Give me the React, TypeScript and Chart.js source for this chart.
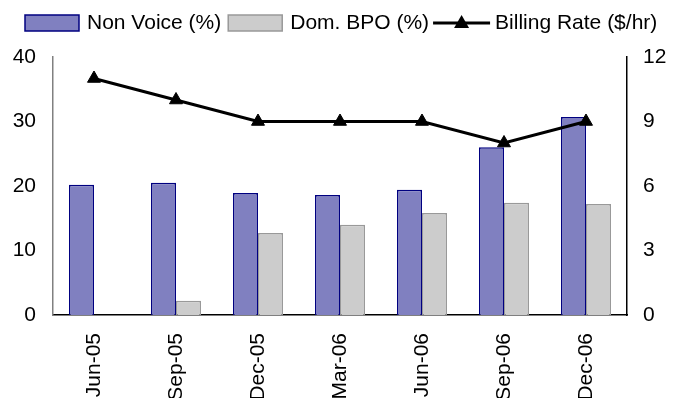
import React, { useEffect, useRef } from "react";
import { Chart, registerables } from "chart.js";

Chart.register(...registerables);

const categories = ["Jun-05", "Sep-05", "Dec-05", "Mar-06", "Jun-06", "Sep-06", "Dec-06"];
const nonVoice = [20.2, 20.5, 18.9, 18.6, 19.4, 26.0, 30.7];
const domBpo: (number | null)[] = [null, 2.2, 12.7, 14.0, 15.8, 17.4, 17.2];
const billingRate = [11, 10, 9, 9, 9, 8, 9];
const legendLabels = ["Non Voice (%)", "Dom. BPO (%)", "Billing Rate ($/hr)"];

const FONT = '"Liberation Sans", Arial, sans-serif';

const legendPlugin = {
  id: "customLegend",
  afterDraw(chart: any) {
    const ctx = chart.ctx as CanvasRenderingContext2D;
    ctx.save();
    ctx.font = `21px ${FONT}`;
    ctx.textBaseline = "middle";
    const cy = 23;
    const boxW = 54;
    const boxTop = 15;
    const boxH = 16;
    let x = 25;
    // Non Voice box
    ctx.fillStyle = "#8080C0";
    ctx.fillRect(x, boxTop, boxW, boxH);
    ctx.strokeStyle = "#000080";
    ctx.lineWidth = 1.5;
    ctx.strokeRect(x, boxTop, boxW, boxH);
    ctx.fillStyle = "#000";
    ctx.fillText(legendLabels[0], x + boxW + 8, cy);
    x = x + boxW + 8 + ctx.measureText(legendLabels[0]).width + 7;
    // Dom BPO box
    ctx.fillStyle = "#CCCCCC";
    ctx.fillRect(x, boxTop, boxW, boxH);
    ctx.strokeStyle = "#999999";
    ctx.strokeRect(x, boxTop, boxW, boxH);
    ctx.fillStyle = "#000";
    ctx.fillText(legendLabels[1], x + boxW + 8, cy);
    x = x + boxW + 8 + ctx.measureText(legendLabels[1]).width + 4;
    // Billing line
    ctx.strokeStyle = "#000";
    ctx.lineWidth = 3;
    ctx.beginPath();
    ctx.moveTo(x, cy);
    ctx.lineTo(x + 57, cy);
    ctx.stroke();
    ctx.fillStyle = "#000";
    ctx.beginPath();
    const tx = x + 28.5;
    ctx.moveTo(tx, cy - 8);
    ctx.lineTo(tx + 7.5, cy + 5);
    ctx.lineTo(tx - 7.5, cy + 5);
    ctx.closePath();
    ctx.fill();
    ctx.fillText(legendLabels[2], x + 62, cy);
    ctx.restore();
  },
};

export default function App() {
  const canvasRef = useRef<HTMLCanvasElement | null>(null);

  useEffect(() => {
    document.body.style.margin = "0";
    const canvas = canvasRef.current;
    if (!canvas) return;
    const chart = new Chart(canvas, {
      type: "bar",
      data: {
        labels: categories,
        datasets: [
          {
            type: "line",
            label: legendLabels[2],
            data: billingRate,
            yAxisID: "y1",
            borderColor: "#000000",
            borderWidth: 3,
            backgroundColor: "#000000",
            pointStyle: "triangle",
            pointRadius: 7.5,
            pointBackgroundColor: "#000000",
            pointBorderColor: "#000000",
            pointBorderWidth: 1,
            tension: 0,
            order: 0,
          } as any,
          {
            type: "bar",
            label: legendLabels[0],
            data: nonVoice,
            yAxisID: "y",
            backgroundColor: "#8080C0",
            borderColor: "#000080",
            borderWidth: 1.5,
            barPercentage: 1,
            categoryPercentage: 0.61,
            order: 1,
          },
          {
            type: "bar",
            label: legendLabels[1],
            data: domBpo,
            yAxisID: "y",
            backgroundColor: "#CCCCCC",
            borderColor: "#999999",
            borderWidth: 1.5,
            barPercentage: 1,
            categoryPercentage: 0.61,
            order: 2,
          },
        ],
      },
      options: {
        responsive: false,
        animation: false,
        layout: { padding: { top: 57, left: 0, right: 0, bottom: 0 } },
        plugins: {
          legend: { display: false },
          tooltip: { enabled: false },
        },
        scales: {
          x: {
            offset: true,
            grid: { display: false, drawTicks: false },
            border: { display: true, color: "#000000", width: 1.5 },
            ticks: {
              color: "#000",
              font: { family: FONT, size: 21 },
              minRotation: 90,
              maxRotation: 90,
              padding: 18,
              autoSkip: false,
            },
            afterFit(scale: any) {
              scale.height = 83;
            },
          },
          y: {
            position: "left",
            min: 0,
            max: 40,
            grid: { display: false, drawTicks: false },
            border: { display: true, color: "#808080", width: 1.5 },
            ticks: {
              stepSize: 10,
              color: "#000",
              font: { family: FONT, size: 21 },
              padding: 17,
            },
            afterFit(scale: any) {
              scale.width = 53;
            },
          },
          y1: {
            position: "right",
            min: 0,
            max: 12,
            grid: { display: false, drawTicks: false },
            border: { display: true, color: "#000000", width: 1.5 },
            ticks: {
              stepSize: 3,
              color: "#000",
              font: { family: FONT, size: 21 },
              padding: 16,
            },
            afterFit(scale: any) {
              scale.width = 52;
            },
          },
        },
      },
      plugins: [legendPlugin],
    });
    return () => chart.destroy();
  }, []);

  return (
    <div style={{ width: 679, height: 398, position: "relative" }}>
      <canvas ref={canvasRef} width={679} height={398} style={{ display: "block", width: 679, height: 398 }} />
    </div>
  );
}
